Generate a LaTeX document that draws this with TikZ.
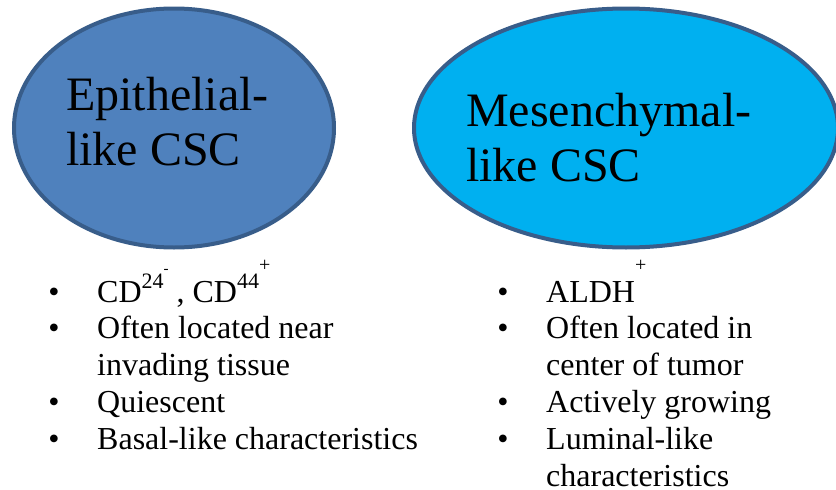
\documentclass[tikz,border=0pt]{standalone}
\usepackage{fontspec}
\setmainfont{Liberation Serif}
\usepackage{tikz}
\usetikzlibrary{shapes.geometric}

\definecolor{epiblue}{HTML}{4F81BD}
\definecolor{mesblue}{HTML}{00B0F0}
\definecolor{cscedge}{HTML}{385D8A}

\tikzset{
  cell/.style={ellipse, draw=cscedge, line width=4pt, inner sep=0pt},
  head/.style={anchor=base west, inner sep=0pt, font=\fontsize{48}{55}\selectfont},
  item/.style={anchor=base west, inner sep=0pt, font=\fontsize{32}{37}\selectfont},
  dot/.style={anchor=base, inner sep=0pt, font=\fontsize{32}{37}\selectfont}
}
\newcommand{\supnum}[1]{\raisebox{14pt}{\fontsize{22}{22}\selectfont #1}}
\newcommand{\supminus}{\raisebox{29pt}{\fontsize{15}{15}\selectfont -}}
\newcommand{\supplus}{\raisebox{31pt}{\fontsize{20}{20}\selectfont +}}

\begin{document}
\begin{tikzpicture}[x=1pt, y=-1pt]
  \useasboundingbox (0,0) rectangle (836,490);
  % the two kinds of stem cell
  \node[cell, fill=epiblue, minimum width=320pt, minimum height=239pt] (epi) at (174,128) {};
  \node[cell, fill=mesblue, minimum width=424pt, minimum height=239pt] (mes) at (626,128) {};
  \node[head] (epi1) at (66,110) {Epithelial-};
  \node[head] (epi2) at (66,165) {like CSC};
  \node[head] (mes1) at (466,126) {Mesenchymal-};
  \node[head] (mes2) at (466,181) {like CSC};
  % left list
  \node[dot] (ld1) at (54,302) {\textbullet};
  \node[dot] (ld2) at (54,338) {\textbullet};
  \node[dot] (ld3) at (54,412) {\textbullet};
  \node[dot] (ld4) at (54,449) {\textbullet};
  \node[item] (l1) at (97,302) {CD\supnum{24}\supminus\ , CD\supnum{44}\supplus};
  \node[item] (l2) at (97,338) {Often located near};
  \node[item] (l2b) at (97,375) {invading tissue};
  \node[item] (l3) at (97,412) {Quiescent};
  \node[item] (l4) at (97,449) {Basal-like characteristics};
  % right list
  \node[dot] (rd1) at (503,302) {\textbullet};
  \node[dot] (rd2) at (503,338) {\textbullet};
  \node[dot] (rd3) at (503,412) {\textbullet};
  \node[dot] (rd4) at (503,449) {\textbullet};
  \node[item] (r1) at (546,302) {ALDH\supplus};
  \node[item] (r2) at (546,338) {Often located in};
  \node[item] (r2b) at (546,375) {center of tumor};
  \node[item] (r3) at (546,412) {Actively growing};
  \node[item] (r4) at (546,449) {Luminal-like};
  \node[item] (r4b) at (546,486) {characteristics};
\end{tikzpicture}
\end{document}
